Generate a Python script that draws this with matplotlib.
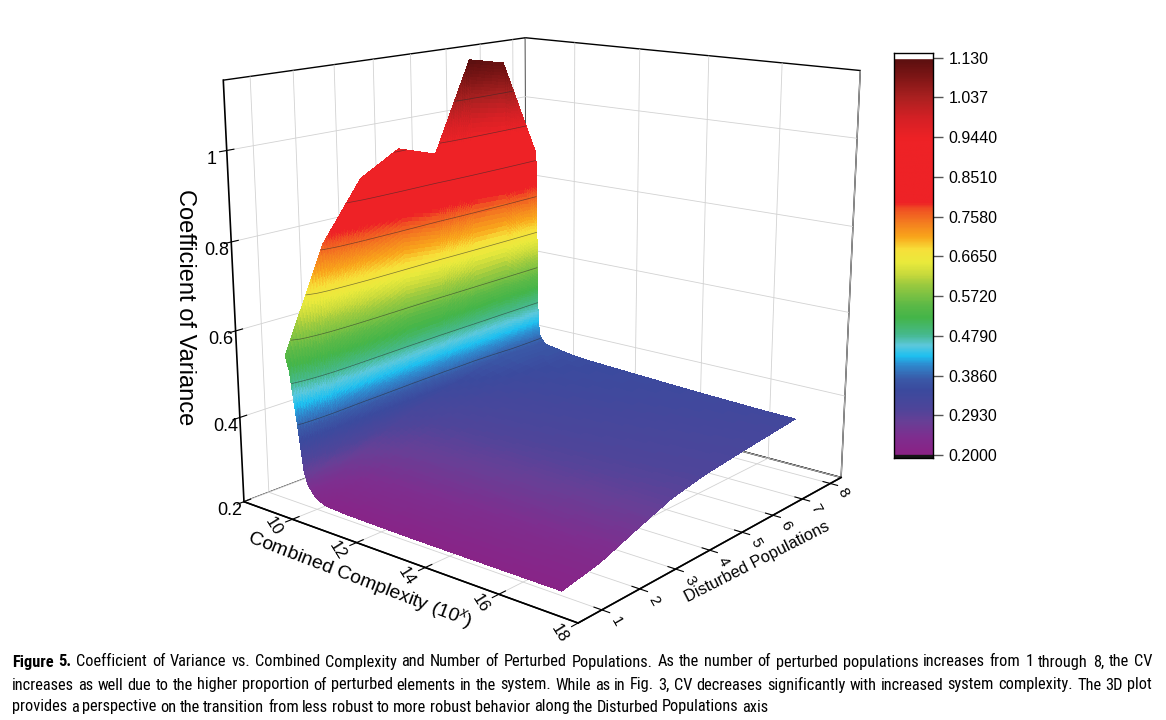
import os
import matplotlib
matplotlib.use("Agg")
import matplotlib.pyplot as plt
import numpy as np
from matplotlib import font_manager as fm
from matplotlib.colors import LinearSegmentedColormap, Normalize
from mpl_toolkits.mplot3d import proj3d

populations = [1, 2, 3, 4, 5, 6, 7, 8]

# steep wall at low complexity: complexity positions and CV read along each row
wall_x_1 = [9.15, 9.26, 9.34, 9.42, 9.50, 9.57, 9.62, 9.72, 9.87, 10.0]
wall_x_2 = [9.15, 9.23, 9.29, 9.35, 9.41, 9.47, 9.50, 9.58, 9.69, 9.79]
wall_x_3 = [9.15, 9.21, 9.25, 9.30, 9.34, 9.38, 9.41, 9.46, 9.55, 9.62]
wall_x_4 = [9.15, 9.194, 9.226, 9.258, 9.29, 9.318, 9.338, 9.378, 9.438, 9.49]
wall_x_5 = [9.15, 9.183, 9.207, 9.231, 9.255, 9.276, 9.291, 9.321, 9.366, 9.41]
wall_x_6 = [9.15, 9.174, 9.192, 9.209, 9.227, 9.242, 9.253, 9.275, 9.308, 9.37]
wall_x_7 = [9.15, 9.168, 9.180, 9.193, 9.206, 9.217, 9.225, 9.241, 9.275, 9.41]
wall_x_8 = [9.15, 9.160, 9.170, 9.180, 9.190, 9.200, 9.210, 9.230, 9.270, 9.45]

wall_cv_1 = [0.540, 0.508, 0.459, 0.410, 0.361, 0.313, 0.280, 0.254, 0.235, 0.225]
wall_cv_2 = [0.770, 0.718, 0.639, 0.560, 0.481, 0.403, 0.350, 0.308, 0.277, 0.261]
wall_cv_3 = [0.900, 0.838, 0.745, 0.652, 0.559, 0.466, 0.404, 0.354, 0.317, 0.299]
wall_cv_4 = [0.950, 0.886, 0.790, 0.693, 0.597, 0.501, 0.436, 0.385, 0.347, 0.327]
wall_cv_5 = [0.920, 0.861, 0.772, 0.683, 0.594, 0.505, 0.446, 0.398, 0.363, 0.345]
wall_cv_6 = [1.130, 1.051, 0.933, 0.815, 0.697, 0.578, 0.500, 0.437, 0.389, 0.366]
wall_cv_7 = [1.110, 1.035, 0.922, 0.808, 0.695, 0.582, 0.507, 0.446, 0.401, 0.376]
wall_cv_8 = [0.870, 0.820, 0.744, 0.668, 0.593, 0.517, 0.467, 0.426, 0.392, 0.372]

# flat part of the surface
flat_x = [10.3, 11, 12, 13, 14, 15, 16, 17]
flat_cv_1 = [0.215, 0.212, 0.211, 0.210, 0.210, 0.210, 0.210, 0.210]
flat_cv_2 = [0.245, 0.240, 0.238, 0.236, 0.234, 0.232, 0.230, 0.228]
flat_cv_3 = [0.280, 0.275, 0.272, 0.270, 0.267, 0.265, 0.262, 0.260]
flat_cv_4 = [0.308, 0.303, 0.300, 0.298, 0.296, 0.294, 0.292, 0.290]
flat_cv_5 = [0.327, 0.322, 0.319, 0.316, 0.313, 0.311, 0.309, 0.307]
flat_cv_6 = [0.340, 0.335, 0.331, 0.328, 0.325, 0.322, 0.319, 0.317]
flat_cv_7 = [0.352, 0.347, 0.343, 0.339, 0.335, 0.332, 0.329, 0.326]
flat_cv_8 = [0.360, 0.355, 0.351, 0.347, 0.343, 0.340, 0.337, 0.335]

x_ticks = [10, 12, 14, 16, 18]
z_ticks = [0.2, 0.4, 0.6, 0.8, 1.0]
z_tick_labels = ["0.2", "0.4", "0.6", "0.8", "1"]
cbar_ticks = [0.2, 0.293, 0.386, 0.479, 0.572, 0.665, 0.758, 0.851, 0.944, 1.037, 1.13]
cbar_labels = ["0.2000", "0.2930", "0.3860", "0.4790", "0.5720", "0.6650",
               "0.7580", "0.8510", "0.9440", "1.037", "1.130"]

caption_1 = ("Figure 5. Coefficient of Variance vs. Combined Complexity and Number of Perturbed "
             "Populations. As the number of perturbed populations increases from 1 through 8, the CV")
caption_2 = ("increases as well due to the higher proportion of perturbed elements in the system. "
             "While as in Fig. 3, CV decreases significantly with increased system complexity. The 3D plot")
caption_3 = ("provides a perspective on the transition from less robust to more robust behavior "
             "along the Disturbed Populations axis")

plt.rcParams["font.family"] = ["Liberation Sans", "DejaVu Sans"]
plt.rcParams["mathtext.fontset"] = "custom"
plt.rcParams["mathtext.rm"] = "Liberation Sans"
plt.rcParams["mathtext.it"] = "Liberation Sans:italic"
plt.rcParams["grid.color"] = "#d2d2d2"
plt.rcParams["grid.linewidth"] = 0.6

rainbow = LinearSegmentedColormap.from_list("origin_rainbow", [
    (0.000, "#8a2285"), (0.043, "#7e2e8f"), (0.081, "#683f96"), (0.114, "#4e459a"),
    (0.161, "#3b4a9e"), (0.190, "#3a5aa8"), (0.226, "#2e8cd0"), (0.247, "#1ec0f0"),
    (0.274, "#5cc8dc"), (0.301, "#46b98e"), (0.344, "#44b549"), (0.376, "#5cb947"),
    (0.430, "#9fcb3f"), (0.452, "#c6d93c"), (0.484, "#eaea3c"), (0.516, "#f7e03a"),
    (0.548, "#f9a61b"), (0.586, "#f47b20"), (0.619, "#f04e23"), (0.634, "#ee2226"),
    (0.796, "#ee2226"), (0.849, "#d42025"), (0.903, "#a82020"), (0.957, "#7a1515"),
    (1.000, "#5a0f0f")])
norm = Normalize(0.2, 1.13)

wall_x = [wall_x_1, wall_x_2, wall_x_3, wall_x_4, wall_x_5, wall_x_6, wall_x_7, wall_x_8]
wall_cv = [wall_cv_1, wall_cv_2, wall_cv_3, wall_cv_4, wall_cv_5, wall_cv_6, wall_cv_7, wall_cv_8]
flat_cv = [flat_cv_1, flat_cv_2, flat_cv_3, flat_cv_4, flat_cv_5, flat_cv_6, flat_cv_7, flat_cv_8]

Xg = np.array([wx + flat_x for wx in wall_x], dtype=float)
Zg = np.array([wc + fc for wc, fc in zip(wall_cv, flat_cv)], dtype=float)
Yg = np.repeat(np.array(populations, dtype=float)[:, None], Xg.shape[1], axis=1)


def finer(counts):
    parts = [np.linspace(k, k + 1, n, endpoint=False) for k, n in enumerate(counts)]
    return np.concatenate(parts + [[len(counts)]])


def densify(A, row_counts, col_counts):
    # straight lines between the read points, only to draw smooth colour bands
    ci = finer(col_counts)
    ri = finer(row_counts)
    cols = np.array([np.interp(ci, np.arange(A.shape[1]), row) for row in A])
    return np.array([np.interp(ri, np.arange(A.shape[0]), cols[:, j])
                     for j in range(cols.shape[1])]).T


col_counts = [10] * 9 + [6] + [2] * 7
row_counts = [16] * 7
X = densify(Xg, row_counts, col_counts)
Y = densify(Yg, row_counts, col_counts)
Z = densify(Zg, row_counts, col_counts)

fig = plt.figure(figsize=(11.66, 7.2), dpi=100)
W = 706
ax = fig.add_axes([(548 - 0.5135 * W) / 1166, (431 - 0.5135 * W) / 720, W / 1166, W / 720],
                  projection="3d", computed_zorder=False)
ax.set_proj_type("persp", focal_length=0.45)
ax.view_init(elev=15.0, azim=-50.5)
ax.set_box_aspect((0.975, 1, 0.965), zoom=1.036)
ax.set_xlim(8.4, 18)
ax.set_ylim(0.4, 8.4)
ax.set_zlim(0.2, 1.15)

ax.plot_surface(X, Y, Z, cmap=rainbow, norm=norm, rstride=1, cstride=1,
                linewidth=0, antialiased=False, shade=False, zorder=1)
ax.contour(X, Y, Z, levels=cbar_ticks[2:10], colors="#2a2a2a", linewidths=0.5,
           alpha=0.6, zorder=3)

for axis in (ax.xaxis, ax.yaxis, ax.zaxis):
    axis.set_pane_color((1, 1, 1, 1))
    axis.pane.set_edgecolor("black")
    axis.pane.set_linewidth(1.0)
    axis.line.set_color("black")
    axis.line.set_linewidth(1.2)
    axis._axinfo["tick"]["inward_factor"] = 0.25
    axis._axinfo["tick"]["outward_factor"] = 0.25

ax.zaxis.set_ticks_position("lower")
ax.zaxis.set_label_position("lower")

ax.set_xticks(x_ticks)
ax.set_yticks(populations)
ax.set_zticks(z_ticks)
ax.set_xticklabels([])
ax.set_yticklabels([])
ax.set_zticklabels(z_tick_labels)
ax.tick_params(axis="z", labelsize=13, pad=-2)

# tick labels of the floor axes, turned like the original
M = ax.get_proj()
px, py, _ = proj3d.proj_transform(np.array(x_ticks, dtype=float),
                                  np.full(len(x_ticks), -0.05),
                                  np.full(len(x_ticks), 0.2), M)
for v, u, w in zip(x_ticks, px, py):
    ax.text2D(u, w, str(v), transform=ax.transData, fontsize=12, rotation=-58,
              ha="center", va="center")
px, py, _ = proj3d.proj_transform(np.full(len(populations), 18.35),
                                  np.array(populations, dtype=float),
                                  np.full(len(populations), 0.185), M)
for v, u, w in zip(populations, px, py):
    ax.text2D(u, w, str(v), transform=ax.transData, fontsize=11, rotation=-60,
              ha="center", va="center")

# axis titles
fig.text(360 / 1166, 1 - 580 / 720, "Combined Complexity (10$^x$)", fontsize=14,
         rotation=-21, ha="center", va="center", rotation_mode="anchor")
fig.text(757 / 1166, 1 - 562 / 720, "Disturbed Populations", fontsize=11.8,
         rotation=27, ha="center", va="center", rotation_mode="anchor")
fig.text(185 / 1166, 1 - 307 / 720, "Coefficient of Variance", fontsize=17,
         rotation=-90, ha="center", va="center", rotation_mode="anchor")

# colour scale
cax = fig.add_axes([894 / 1166, 1 - 458 / 720, 39 / 1166, 405 / 720])
grad = np.linspace(0.2, 1.13, 600).reshape(-1, 1)
cax.imshow(grad, origin="lower", extent=(0, 1, 0.2, 1.13), aspect="auto",
           cmap=rainbow, norm=norm)
cax.axhspan(1.13, 1.141, color="white")
cax.axhspan(0.193, 0.2, color="#151515")
cax.set_xlim(0, 1)
cax.set_ylim(0.193, 1.141)
cax.set_xticks([])
cax.yaxis.tick_right()
cax.set_yticks(cbar_ticks)
cax.set_yticklabels(cbar_labels)
cax.tick_params(axis="y", length=7, width=1, labelsize=11.5, pad=4, color="#555555")
for s in cax.spines.values():
    s.set_linewidth(1.0)


# caption in a narrow face when one is installed
def narrow_file(bold):
    skip = ("italic", "oblique", "light", "thin", "black", "medium", "semi", "extra",
            "mono", "serif", "display")
    hits = []
    for f in fm.fontManager.ttflist:
        name = os.path.basename(f.fname).lower()
        if not any(k in name for k in ("narrow", "condensed", "cond")):
            continue
        if any(k in name for k in skip) or (("bold" in name) != bold):
            continue
        hits.append((name, f.fname))
    for pref in ("liberationsansnarrow", "robotocondensed", "notosans-", "opensans", "dejavusans"):
        for name, path in sorted(hits):
            if name.startswith(pref):
                return path
    return None


reg_file, bold_file = narrow_file(False), narrow_file(True)
if reg_file:
    fp_reg = fm.FontProperties(fname=reg_file)
    fp_bold = fm.FontProperties(fname=bold_file) if bold_file else fm.FontProperties(fname=reg_file, weight="bold")
else:
    fp_reg = fm.FontProperties(family="Liberation Sans")
    fp_bold = fm.FontProperties(family="Liberation Sans", weight="bold")

renderer = fig.canvas.get_renderer()
cap_size = 11.5
widest = 0
for line in (caption_1, caption_2):
    probe = fig.text(0, 0, line, fontproperties=fp_reg, fontsize=cap_size)
    widest = max(widest, probe.get_window_extent(renderer).width)
    probe.remove()
cap_size = cap_size * 1132 / widest


def put_line(text, y_px, bold_words=0, justify=True):
    words = text.split(" ")
    items = []
    for i, w in enumerate(words):
        fp = fp_bold if i < bold_words else fp_reg
        t = fig.text(0, 1 - y_px / 720, w, fontproperties=fp, fontsize=cap_size,
                     va="center", ha="left", color="#000000")
        items.append((t, t.get_window_extent(renderer).width))
    total = sum(wd for _, wd in items)
    gap = (1152 - 12 - total) / (len(items) - 1) if justify else cap_size * 0.3
    x = 12
    for t, wd in items:
        t.set_x(x / 1166)
        x += wd + gap


put_line(caption_1, 662, bold_words=2)
put_line(caption_2, 685)
put_line(caption_3, 707, justify=False)

fig.savefig("out.png", dpi=100, facecolor="white")
